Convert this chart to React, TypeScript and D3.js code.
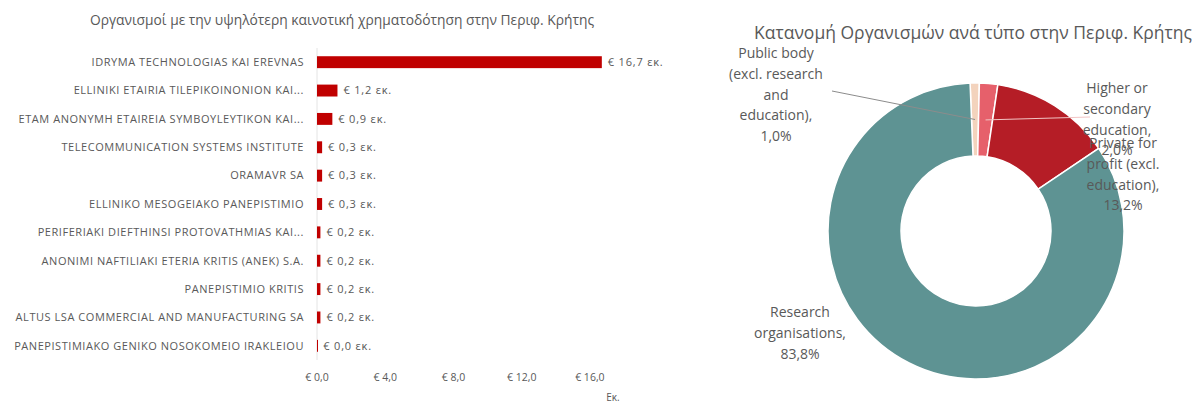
import * as d3 from "d3"

const categories = [
  "IDRYMA TECHNOLOGIAS KAI EREVNAS",
  "ELLINIKI ETAIRIA TILEPIKOINONION KAI...",
  "ETAM ANONYMH ETAIREIA SYMBOYLEYTIKON KAI...",
  "TELECOMMUNICATION SYSTEMS INSTITUTE",
  "ORAMAVR SA",
  "ELLINIKO MESOGEIAKO PANEPISTIMIO",
  "PERIFERIAKI DIEFTHINSI PROTOVATHMIAS KAI...",
  "ANONIMI NAFTILIAKI ETERIA KRITIS (ANEK) S.A.",
  "PANEPISTIMIO KRITIS",
  "ALTUS LSA COMMERCIAL AND MANUFACTURING SA",
  "PANEPISTIMIAKO GENIKO NOSOKOMEIO IRAKLEIOU",
]
const funding = [16.7, 1.2, 0.9, 0.3, 0.3, 0.3, 0.2, 0.2, 0.2, 0.2, 0.02]
const xTicks = [0, 4, 8, 12, 16]

const orgTypes = [
  ["Public body", "(excl. research", "and", "education),"],
  ["Higher or", "secondary", "education,"],
  ["Private for", "profit (excl.", "education),"],
  ["Research", "organisations,"],
]
const orgShares = [1.0, 2.0, 13.2, 83.8]
const orgColors = ["#f3d3bd", "#e6606b", "#b51d26", "#5e9393"]

const barTitle = "Οργανισμοί με την υψηλότερη καινοτική χρηματοδότηση στην Περιφ. Κρήτης"
const pieTitle = "Κατανομή Οργανισμών ανά τύπο στην Περιφ. Κρήτης"

const grey = "#595959"
const font = "'Open Sans', sans-serif"
const fmt = (v: number) => "€ " + v.toFixed(1).replace(".", ",")
const pct = (v: number) => v.toFixed(1).replace(".", ",") + "%"

export default function App() {
  const x = d3.scaleLinear().domain([0, 18]).range([317, 624])
  const y = d3
    .scaleBand<string>()
    .domain(categories)
    .range([48, 360])
    .paddingInner(0.58)
    .paddingOuter(0.29)

  const cx = 976
  const cy = 231
  const pie = d3.pie<number>().sort(null).startAngle(-0.04).endAngle(2 * Math.PI - 0.04)
  const arcs = pie(orgShares)
  const arc = d3.arc<d3.PieArcDatum<number>>().innerRadius(75).outerRadius(148)

  // label anchor positions (centre of text block, first line baseline)
  const labelPos = [
    { x: 776, y: 58, lineFrom: [832, 91] },
    { x: 1117, y: 93, lineFrom: [1090, 117] },
    { x: 1123, y: 148, lineFrom: null },
    { x: 800, y: 317, lineFrom: null },
  ]

  return (
    <svg
      width={1198}
      height={403}
      style={{ position: "absolute", left: 0, top: 0, background: "#fff" }}
      fontFamily={font}
    >
      {/* bar chart */}
      <text x={342} y={25} textAnchor="middle" fontSize={13.8} fill={grey}>
        {barTitle}
      </text>
      <line x1={x(0)} x2={x(0)} y1={48} y2={360} stroke="#e4e4e4" />
      {categories.map((c, i) => {
        const yy = y(c)!
        const mid = yy + y.bandwidth() / 2
        return (
          <g key={c}>
            <text
              x={304}
              y={mid}
              dy="0.35em"
              textAnchor="end"
              fontSize={11}
              letterSpacing={0.55}
              fill={grey}
            >
              {c}
            </text>
            <rect
              x={x(0)}
              y={yy}
              width={Math.max(1, x(funding[i]) - x(0))}
              height={y.bandwidth()}
              fill="#c00000"
            />
            <text
              x={x(funding[i]) + 6}
              y={mid}
              dy="0.35em"
              fontSize={11}
              letterSpacing={0.8}
              fill={grey}
            >
              {fmt(funding[i]) + " εκ."}
            </text>
          </g>
        )
      })}
      {xTicks.map((t) => (
        <text key={t} x={x(t)} y={381} textAnchor="middle" fontSize={10.5} fill={grey}>
          {fmt(t)}
        </text>
      ))}
      <text x={613} y={401} textAnchor="middle" fontSize={10} fill={grey}>
        Εκ.
      </text>

      {/* donut chart */}
      <text x={973} y={39} textAnchor="middle" fontSize={17.5} fill={grey}>
        {pieTitle}
      </text>
      <g transform={`translate(${cx},${cy})`}>
        {arcs.map((a, i) => (
          <path key={i} d={arc(a) || ""} fill={orgColors[i]} stroke="#fff" strokeWidth={1.5} />
        ))}
      </g>
      {labelPos.map((p, i) => {
        if (!p.lineFrom) return null
        const [ax, ay] = arc.centroid(arcs[i])
        return (
          <line
            key={"l" + i}
            x1={p.lineFrom[0]}
            y1={p.lineFrom[1]}
            x2={cx + ax}
            y2={cy + ay}
            stroke={i === 0 ? "#8c8c8c" : "#f2c4c4"}
            strokeWidth={1}
          />
        )
      })}
      {labelPos.map((p, i) => {
        const lines = [...orgTypes[i], pct(orgShares[i])]
        return (
          <text key={"t" + i} x={p.x} y={p.y} textAnchor="middle" fontSize={14} fill={grey}>
            {lines.map((ln, j) => (
              <tspan key={j} x={p.x} dy={j === 0 ? 0 : 20.8}>
                {ln}
              </tspan>
            ))}
          </text>
        )
      })}
    </svg>
  )
}
